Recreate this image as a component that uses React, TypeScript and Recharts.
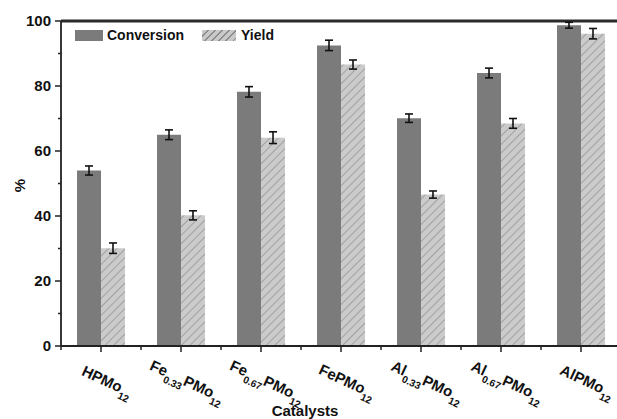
import React from 'react';
import { BarChart, Bar, XAxis, YAxis, ErrorBar, Legend, ReferenceLine } from 'recharts';

const categories = ['HPMo_12', 'Fe_0.33PMo_12', 'Fe_0.67PMo_12', 'FePMo_12', 'Al_0.33PMo_12', 'Al_0.67PMo_12', 'AlPMo_12'];
const conversion = [54.0, 65.0, 78.2, 92.5, 70.1, 84.0, 98.7];
const conversionErr = [1.4, 1.5, 1.6, 1.6, 1.3, 1.5, 0.9];
const yieldValues = [30.1, 40.2, 64.1, 86.6, 46.6, 68.5, 96.1];
const yieldErr = [1.6, 1.4, 1.8, 1.4, 1.1, 1.5, 1.6];
const yTicks = [0, 10, 20, 30, 40, 50, 60, 70, 80, 90, 100];
const yLabelTicks = [0, 20, 40, 60, 80, 100];
const yMax = 100;

const data = categories.map((name, i) => ({
  name,
  conversion: conversion[i],
  conversionErr: conversionErr[i],
  yield: yieldValues[i],
  yieldErr: yieldErr[i],
}));

const FONT = '"Liberation Sans", Arial, Helvetica, sans-serif';
const AXIS = '#222';
const CONV = '#7b7b7b';
const X_TICK_SIZE = 6;
const X_TICK_MARGIN = 2;

function parseLabel(s: string) {
  const parts: { t: string; sub: boolean }[] = [];
  const re = /_(\d+(?:\.\d+)?)/g;
  let last = 0;
  let m: RegExpExecArray | null;
  while ((m = re.exec(s)) !== null) {
    if (m.index > last) parts.push({ t: s.slice(last, m.index), sub: false });
    parts.push({ t: m[1], sub: true });
    last = m.index + m[0].length;
  }
  if (last < s.length) parts.push({ t: s.slice(last), sub: false });
  return parts;
}

const XTick = (props: any) => {
  const { x, y, payload, width, visibleTicksCount, index } = props;
  const parts = parseLabel(String(payload.value));
  const axisY = y - X_TICK_SIZE - X_TICK_MARGIN;
  const band = width && visibleTicksCount ? width / visibleTicksCount : 0;
  let cur = 0;
  return (
    <g>
      {band > 0 && (
        <line x1={x - band / 2} x2={x - band / 2} y1={axisY} y2={axisY + 4} stroke={AXIS} strokeWidth={1.5} />
      )}
      {band > 0 && index === visibleTicksCount - 1 && (
        <line x1={x + band / 2} x2={x + band / 2} y1={axisY} y2={axisY + 4} stroke={AXIS} strokeWidth={1.5} />
      )}
      <g transform={`translate(${x + 4},${y + 32}) rotate(25)`}>
        <text x={0} y={0} textAnchor="middle" fontFamily={FONT} fontWeight={700} fontSize={15} fill="#111">
          {parts.map((p, i) => {
            const target = p.sub ? 6 : 0;
            const dy = target - cur;
            cur = target;
            return (
              <tspan key={i} dy={dy} fontSize={p.sub ? 10 : 15}>
                {p.t}
              </tspan>
            );
          })}
        </text>
      </g>
    </g>
  );
};

const YTick = (props: any) => {
  const { x, y, payload } = props;
  const major = yLabelTicks.includes(payload.value);
  return (
    <g>
      <line x1={x - (major ? 6 : 3)} x2={x} y1={y} y2={y} stroke={AXIS} strokeWidth={1.5} />
      {major && (
        <text x={x - 10} y={y} dy={5} textAnchor="end" fontFamily={FONT} fontWeight={700} fontSize={15} fill="#111">
          {payload.value}
        </text>
      )}
    </g>
  );
};

const LegendContent = () => (
  <div style={{ display: 'flex', alignItems: 'center', fontFamily: FONT, fontWeight: 700, fontSize: 14, color: '#111', lineHeight: '16px' }}>
    <span style={{ display: 'inline-block', width: 28, height: 11, background: CONV }} />
    <span style={{ marginLeft: 4 }}>Conversion</span>
    <span
      style={{
        display: 'inline-block',
        width: 34,
        height: 11,
        marginLeft: 18,
        background: 'repeating-linear-gradient(135deg, #c9c9c9 0px, #c9c9c9 4px, #8a8a8a 4px, #8a8a8a 5px)',
      }}
    />
    <span style={{ marginLeft: 5 }}>Yield</span>
  </div>
);

const PercentLabel = (p: any) => {
  const vb = p.viewBox || { x: 0, y: 21, width: 61, height: 325 };
  const cx = 20;
  const cy = vb.y + vb.height / 2 + 2;
  return (
    <text
      x={cx}
      y={cy}
      transform={`rotate(-90, ${cx}, ${cy})`}
      textAnchor="middle"
      dy={5}
      fontFamily={FONT}
      fontWeight={700}
      fontSize={15}
      fill="#111"
    >
      %
    </text>
  );
};

export default function App() {
  return (
    <div style={{ position: 'absolute', left: 0, top: 0, width: 617, height: 419, overflow: 'hidden', background: '#fff' }}>
      <svg width={0} height={0} style={{ position: 'absolute' }}>
        <defs>
          <pattern id="hatch" patternUnits="userSpaceOnUse" width={6} height={6} patternTransform="rotate(45)">
            <rect x={0} y={0} width={6} height={6} fill="#cbcbcb" />
            <line x1={0} y1={0} x2={0} y2={6} stroke="#858585" strokeWidth={1.2} />
          </pattern>
        </defs>
      </svg>
      <BarChart
        width={640}
        height={419}
        data={data}
        margin={{ top: 21, right: 19, left: 0, bottom: 0 }}
        barGap={0}
      >
        <XAxis
          dataKey="name"
          height={73}
          interval={0}
          tickSize={X_TICK_SIZE}
          tickMargin={X_TICK_MARGIN}
          tickLine={{ stroke: AXIS, strokeWidth: 1.5 }}
          axisLine={{ stroke: AXIS, strokeWidth: 1.8 }}
          tick={<XTick />}
          label={{
            value: 'Catalysts',
            position: 'insideBottom',
            offset: 3,
            dx: -36,
            style: { fontFamily: FONT, fontWeight: 700, fontSize: 15, fill: '#111' },
          }}
        />
        <YAxis
          width={61}
          domain={[0, yMax]}
          ticks={yTicks}
          interval={0}
          tickSize={0}
          tickMargin={0}
          tickLine={false}
          axisLine={{ stroke: AXIS, strokeWidth: 1.8 }}
          tick={<YTick />}
          label={{ content: <PercentLabel /> }}
        />
        <ReferenceLine y={yMax} stroke="#2a2a2a" strokeWidth={3} />
        <Legend
          layout="horizontal"
          verticalAlign="middle"
          align="center"
          content={<LegendContent />}
          wrapperStyle={{ left: 75, top: 27, width: 'auto', height: 'auto' }}
        />
        <Bar dataKey="conversion" name="Conversion" fill={CONV} barSize={24} isAnimationActive={false}>
          <ErrorBar dataKey="conversionErr" width={4} strokeWidth={1.6} stroke="#111" direction="y" />
        </Bar>
        <Bar dataKey="yield" name="Yield" fill="url(#hatch)" barSize={24} isAnimationActive={false}>
          <ErrorBar dataKey="yieldErr" width={4} strokeWidth={1.6} stroke="#111" direction="y" />
        </Bar>
      </BarChart>
    </div>
  );
}
